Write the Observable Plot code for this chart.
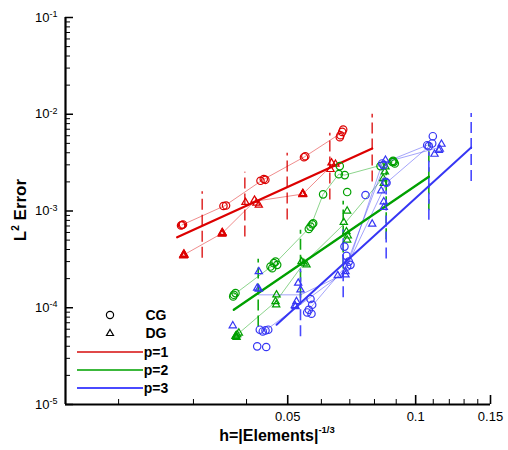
<!DOCTYPE html>
<html><head><meta charset="utf-8">
<script src="https://cdn.jsdelivr.net/npm/d3@7"></script>
<script src="https://cdn.jsdelivr.net/npm/@observablehq/plot@0.6"></script>
<style>
body{margin:0;background:#fff;}
#chart{position:relative;width:508px;height:450px;font-family:"Liberation Sans",Arial,sans-serif;}
</style></head><body><div id="chart"></div>
<script>
// ---------- tick labels ----------
const yMajor = [1e-5, 1e-4, 1e-3, 1e-2, 1e-1];
const yExp = ["-5", "-4", "-3", "-2", "-1"];
const yMantissa = [2, 3, 4, 5, 6, 7, 8, 9];
const xMajor = [0.05, 0.1, 0.15];
const xTickLabels = ["0.05", "0.1", "0.15"];
const xMinor = [0.02, 0.03, 0.04, 0.06, 0.07, 0.08, 0.09, 0.11, 0.12, 0.13, 0.14];

// ---------- p=1 ----------
const p1CG_h = [0.02805,0.0282,0.02835, 0.0353,0.0358, 0.04314,0.04392,0.0443, 0.0546,0.0550, 0.0663,0.06655,0.06716,0.06753];
const p1CG_e = [7.09e-4,7.17e-4,7.26e-4, 1.126e-3,1.14e-3, 2.053e-3,2.138e-3,2.10e-3, 3.60e-3,3.68e-3, 5.79e-3,6.07e-3,6.57e-3,6.95e-3];
const p1DG_h = [0.0284,0.02847,0.02855,0.02850,0.02843,0.02852, 0.0350,0.03512,0.03506,0.03502,0.0351, 0.03977, 0.04176,0.0422,0.04275, 0.0542,0.0543,0.05425,0.05418,0.05432, 0.06304,0.06338,0.06477];
const p1DG_e = [3.50e-4,3.55e-4,3.48e-4,3.60e-4,3.44e-4,3.52e-4, 5.85e-4,5.93e-4,6.0e-4,5.78e-4,5.9e-4, 1.229e-3, 1.298e-3,1.21e-3,1.153e-3, 1.49e-3,1.505e-3,1.52e-3,1.48e-3,1.50e-3, 2.69e-3,3.15e-3,3.05e-3];
const p1CGline_h = [0.0282,0.03556,0.0436,0.05476,0.0668];
const p1CGline_e = [7.17e-4,1.134e-3,2.09e-3,3.63e-3,6.4e-3];
const p1DGline_h = [0.02847,0.03506,0.04176,0.05425,0.0632];
const p1DGline_e = [3.52e-4,5.89e-4,1.26e-3,1.497e-3,2.9e-3];
const p1Fit_h = [0.02747, 0.07902];
const p1Fit_e = [5.36e-4, 4.43e-3];
const p1Dash_h = [0.03146, 0.03963, 0.04986, 0.0628, 0.07902];
const p1Dash_lo = [3.25e-4, 5.40e-4, 8.07e-4, 1.30e-3, 1.99e-3];
const p1Dash_hi = [1.58e-3, 2.52e-3, 3.96e-3, 6.37e-3, 1.0e-2];

// ---------- p=2 ----------
const p2CG_h = [0.03721,0.03733,0.03768, 0.04555,0.04597,0.04637,0.0468,0.04723, 0.05605,0.05657,0.05709,0.0574, 0.06056, 0.06594,0.06629,0.06811, 0.069, 0.08265,0.08807,0.0885,0.08883,0.08931];
const p2CG_e = [1.307e-4,1.361e-4,1.417e-4, 2.665e-4,2.566e-4,2.89e-4,3.0e-4,2.775e-4, 6.52e-4,6.89e-4,7.29e-4,7.46e-4, 1.486e-3, 2.405e-3,2.91e-3,2.35e-3, 1.57e-3, 2.91e-3,3.22e-3,3.30e-3,3.22e-3,3.10e-3];
const p2DG_h = [0.03768,0.03803,0.03837,0.0379,0.0378, 0.0468,0.04697,0.04705, 0.05388,0.05456,0.05535, 0.06774,0.069,0.06874,0.06923,0.069, 0.08388,0.08414,0.08462,0.08492];
const p2DG_e = [5.06e-5,5.27e-5,5.48e-5,4.95e-5,5.15e-5, 1.161e-4,1.074e-4,1.361e-4, 3.0e-4,2.89e-4,2.775e-4, 7.65e-4,1.0e-3,6.12e-4,5.53e-4,5.02e-4, 2.17e-3,1.93e-3,2.54e-3,2.86e-3];
const p2CGline_h = [0.03733,0.0464,0.0566,0.06056,0.06594,0.06811,0.0882];
const p2CGline_e = [1.36e-4,2.8e-4,6.9e-4,1.486e-3,2.405e-3,2.35e-3,3.2e-3];
const p2DGline_h = [0.03788,0.0469,0.0546,0.0684,0.0845];
const p2DGline_e = [5.2e-5,1.16e-4,2.89e-4,7.6e-4,2.3e-3];
const p2Fit_h = [0.03733, 0.1074];
const p2Fit_e = [9.54e-5, 2.26e-3];
const p2Dash_h = [0.04261, 0.05358, 0.06753, 0.08524, 0.1074];
const p2Dash_lo = [6.33e-5, 1.256e-4, 2.51e-4, 5.05e-4, 1.007e-3];
const p2Dash_hi = [3.18e-4, 6.31e-4, 1.262e-3, 2.535e-3, 5.06e-3];

// ---------- p=3 ----------
const p3CG_h = [0.04238,0.0445, 0.04298,0.04368,0.04433,0.04499, 0.05657,0.05709,0.05605,0.05556,0.05687, 0.068, 0.06874,0.06961,0.07025,0.069, 0.0762, 0.08342,0.08401,0.08492,0.0854, 0.10646,0.10738,0.10974,0.10938];
const p3CG_e = [3.99e-5,3.93e-5, 5.93e-5,5.69e-5,5.83e-5,5.93e-5, 1.23e-4,1.074e-4,9.54e-5,8.94e-5,8.67e-5, 4.285e-4, 3.44e-4,3.0e-4,2.775e-4,2.665e-4, 1.462e-3, 3.10e-3,2.98e-3,2.0e-3,1.957e-3, 4.79e-3,4.68e-3,5.93e-3,4.99e-3];
const p3DG_h = [0.03713, 0.04275,0.04238,0.04275, 0.05292,0.05358,0.05243,0.05195,0.05215, 0.06558,0.06837,0.06837, 0.07902, 0.08298,0.08414,0.08414, 0.08492, 0.11075,0.11397,0.11502,0.11337];
const p3DG_e = [6.52e-5, 2.366e-4,1.596e-4,1.559e-4, 1.797e-4,1.533e-4,1.161e-4,1.056e-4,1.031e-4, 2.153e-4,2.188e-4,2.366e-4, 7.34e-4, 1.62e-3,1.247e-3,1.092e-3, 3.355e-3, 3.87e-3,4.36e-3,4.91e-3,4.25e-3];
const p3CGlineA_h = [0.0445,0.0685,0.0834,0.1065];
const p3CGlineA_e = [5.9e-5,2.4e-4,3.1e-3,4.79e-3];
const p3CGlineB_h = [0.0566,0.0695,0.0854,0.1094];
const p3CGlineB_e = [1.0e-4,2.9e-4,1.96e-3,4.99e-3];
const p3DGline_h = [0.04275,0.05358,0.06727,0.08492,0.11196];
const p3DGline_e = [1.36e-4,1.36e-4,2.19e-4,3.2e-3,4.46e-3];
const p3Fit_h = [0.04706, 0.1351];
const p3Fit_e = [6.68e-5, 4.54e-3];
const p3Dash_h = [0.05358, 0.06753, 0.08524, 0.1074, 0.1351];
const p3Dash_lo = [5.01e-5, 1.265e-4, 3.20e-4, 8.04e-4, 2.02e-3];
const p3Dash_hi = [2.52e-4, 6.35e-4, 1.607e-3, 4.04e-3, 1.017e-2];

// ---------- build ----------
const pts = (h, e) => h.map((x, i) => ({h: x, e: e[i]}));
const rng = (h, lo, hi) => h.map((x, i) => ({h: x, lo: lo[i], hi: hi[i]}));
const yMinor = yMajor.slice(0, -1).flatMap(d => yMantissa.map(m => d * m));

const RED = "#dc0000", GREEN = "#00a000", BLUE = "#3636f4";
const W = 508, H = 450, ML = 65, MR = 18, MT = 17, MB = 46;
const plotW = W - ML - MR, plotH = H - MT - MB;

const series = [
  {c: RED, cg: pts(p1CG_h, p1CG_e), dg: pts(p1DG_h, p1DG_e), lines: [pts(p1CGline_h, p1CGline_e), pts(p1DGline_h, p1DGline_e)], fit: pts(p1Fit_h, p1Fit_e), dash: rng(p1Dash_h, p1Dash_lo, p1Dash_hi), dashC: "#e03434", fitW: 2.3},
  {c: GREEN, cg: pts(p2CG_h, p2CG_e), dg: pts(p2DG_h, p2DG_e), lines: [pts(p2CGline_h, p2CGline_e), pts(p2DGline_h, p2DGline_e)], fit: pts(p2Fit_h, p2Fit_e), dash: rng(p2Dash_h, p2Dash_lo, p2Dash_hi), dashC: "#10a810", fitW: 2.3},
  {c: BLUE, cg: pts(p3CG_h, p3CG_e), dg: pts(p3DG_h, p3DG_e), lines: [pts(p3CGlineA_h, p3CGlineA_e), pts(p3CGlineB_h, p3CGlineB_e), pts(p3DGline_h, p3DGline_e)], fit: pts(p3Fit_h, p3Fit_e), dash: rng(p3Dash_h, p3Dash_lo, p3Dash_hi), dashC: "#4a4aff", fitW: 2}
];

const marks = [];
for (const s of series) {
  marks.push(Plot.ruleX(s.dash, {x: "h", y1: "lo", y2: "hi", stroke: s.dashC, strokeWidth: 1.6, strokeDasharray: "11,5"}));
}
for (const s of series) {
  for (const l of s.lines) marks.push(Plot.line(l, {x: "h", y: "e", stroke: s.c, strokeOpacity: 0.5, strokeWidth: 0.9}));
}
for (const s of series) {
  marks.push(Plot.line(s.fit, {x: "h", y: "e", stroke: s.c, strokeWidth: s.fitW}));
}
for (const s of series) {
  marks.push(Plot.dot(s.cg, {x: "h", y: "e", r: 3.7, stroke: s.c, strokeWidth: 1.2, fill: "none"}));
  marks.push(Plot.dot(s.dg, {x: "h", y: "e", symbol: "triangle", r: 2.7, stroke: s.c, strokeWidth: 1.2, fill: "none"}));
}
// axes
marks.push(
  Plot.ruleY(yMajor, {y: d => d, insetRight: plotW - 8, stroke: "#000", strokeWidth: 1.5}),
  Plot.ruleY(yMinor, {y: d => d, insetRight: plotW - 5, stroke: "#000", strokeWidth: 1}),
  Plot.ruleX(xMajor, {x: d => d, insetTop: plotH - 9, stroke: "#000", strokeWidth: 1.6}),
  Plot.ruleX(xMinor, {x: d => d, insetTop: plotH - 5, stroke: "#000", strokeWidth: 1}),
  Plot.ruleX([0.015], {x: d => d, stroke: "#000", strokeWidth: 2.2}),
  Plot.ruleY([1e-5], {y: d => d, stroke: "#000", strokeWidth: 2.2}),
  Plot.text(yMajor, {y: d => d, frameAnchor: "left", dx: -8, text: () => "10", textAnchor: "end", fontSize: 13, fill: "#000", ariaLabel: () => "ylabel"}),
  Plot.text(xMajor, {x: d => d, frameAnchor: "bottom", dy: 12, text: xTickLabels, lineAnchor: "middle", fontSize: 13, fill: "#000"})
);

const svg = Plot.plot({
  width: W, height: H,
  marginLeft: ML, marginRight: MR, marginTop: MT, marginBottom: MB,
  style: {fontFamily: '"Liberation Sans", Arial, sans-serif', background: "#fff", overflow: "visible"},
  x: {type: "log", domain: [0.015, 0.15], axis: null},
  y: {type: "log", domain: [1e-5, 1e-1], axis: null},
  marks
});

const S = d3.select(svg);
S.selectAll('text[aria-label="ylabel"]').each(function(d, i) {
  const t = d3.select(this);
  t.text(null);
  t.append("tspan").text("10");
  t.append("tspan").attr("dy", "-0.5em").attr("font-size", 9).text(yExp[d] ?? yExp[i]);
});

// axis titles
const yt = S.append("text").attr("transform", "translate(26,210) rotate(-90)")
  .attr("text-anchor", "middle").attr("font-weight", "bold").attr("font-size", 17)
  .attr("font-family", '"Liberation Sans", Arial, sans-serif').attr("fill", "#000");
yt.append("tspan").text("L");
yt.append("tspan").attr("font-size", 10).attr("dy", "-0.75em").text("2");
yt.append("tspan").attr("dy", "0.45em").text(" Error");

const xt = S.append("text").attr("x", 277).attr("y", 441)
  .attr("text-anchor", "middle").attr("font-weight", "bold").attr("font-size", 16)
  .attr("font-family", '"Liberation Sans", Arial, sans-serif').attr("fill", "#000");
xt.append("tspan").text("h=|Elements|");
xt.append("tspan").attr("font-size", 9.5).attr("dy", "-0.85em").text("-1/3");

// legend
const lg = S.append("g").attr("font-family", '"Liberation Sans", Arial, sans-serif').attr("font-weight", "bold").attr("font-size", 14);
const legendMarkers = ["CG", "DG"];
const legendLines = [{t: "p=1", c: "#e04848"}, {t: "p=2", c: "#3cb83c"}, {t: "p=3", c: "#4a4aff"}];
lg.append("circle").attr("cx", 110).attr("cy", 315).attr("r", 3.6).attr("fill", "none").attr("stroke", "#000").attr("stroke-width", 1.2);
lg.append("path").attr("transform", "translate(110,333.5)").attr("d", d3.symbol(d3.symbolTriangle, Math.PI * 2.6 * 2.6)()).attr("fill", "none").attr("stroke", "#000").attr("stroke-width", 1.2);
legendMarkers.forEach((t, i) => lg.append("text").attr("x", 156).attr("y", 315 + i * 18).attr("dy", "0.36em").text(t));
legendLines.forEach((l, i) => {
  const y = 352 + i * 18;
  lg.append("line").attr("x1", 77).attr("x2", 143).attr("y1", y).attr("y2", y).attr("stroke", l.c).attr("stroke-width", 2);
  lg.append("text").attr("x", 156).attr("y", y).attr("dy", "0.36em").text(l.t);
});

document.getElementById("chart").appendChild(svg);
</script></body></html>
